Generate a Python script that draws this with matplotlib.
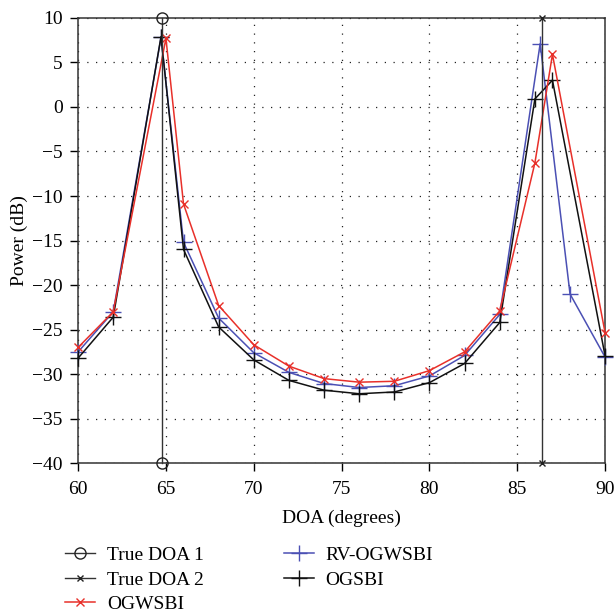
import matplotlib
matplotlib.use("Agg")
import matplotlib.pyplot as plt

plt.rcParams['font.family'] = ['Liberation Serif', 'DejaVu Serif']

true_doa1 = 64.78
true_doa2 = 86.43

ogwsbi_x = [60, 62, 65, 66, 68, 70, 72, 74, 76, 78, 80, 82, 84, 86, 87, 90]
ogwsbi_y = [-27.0, -23.0, 7.7, -10.9, -22.3, -26.7, -29.1, -30.5, -30.9, -30.8, -29.6, -27.5, -22.9, -6.3, 5.9, -25.4]

rv_x = [60, 62, 64.72, 66, 68, 70, 72, 74, 76, 78, 80, 82, 84, 86.3, 88, 90]
rv_y = [-27.5, -23.0, 7.8, -15.2, -23.7, -27.6, -29.8, -31.05, -31.5, -31.3, -30.2, -27.9, -23.3, 7.1, -21.0, -28.1]

ogsbi_x = [60, 62, 64.72, 66, 68, 70, 72, 74, 76, 78, 80, 82, 84, 86, 87, 90]
ogsbi_y = [-28.2, -23.6, 7.9, -16.0, -24.7, -28.4, -30.7, -31.8, -32.2, -32.0, -30.95, -28.8, -24.2, 0.9, 3.0, -28.0]

fig = plt.figure(figsize=(6.15, 6.16), dpi=100)
ax = fig.add_axes([0.127, 0.248, 0.857, 0.723])

ax.plot([true_doa1, true_doa1], [-40, 10], color='#333333', lw=1.0, marker='o',
        markersize=8, markerfacecolor='none', markeredgecolor='#222222', label='True DOA 1', clip_on=False, zorder=5)
ax.plot([true_doa2, true_doa2], [-40, 10], color='#333333', lw=1.0, marker='x',
        markersize=5, markeredgecolor='#222222', label='True DOA 2', clip_on=False, zorder=5)
ax.plot(ogwsbi_x, ogwsbi_y, color='#e8302a', lw=1.1, marker='x', markersize=6, label='OGWSBI', clip_on=False, zorder=4)
ax.plot(rv_x, rv_y, color='#4b50b4', lw=1.1, marker='+', markersize=12, markeredgewidth=1.0, label='RV-OGWSBI', clip_on=False, zorder=3)
ax.plot(ogsbi_x, ogsbi_y, color='#111111', lw=1.1, marker='+', markersize=12, markeredgewidth=1.0, label='OGSBI', clip_on=False, zorder=3)

ax.set_xlim(60, 90)
ax.set_ylim(-40, 10)
ax.set_xticks(range(60, 91, 5))
ax.set_yticks(range(-40, 11, 5))
ax.set_yticklabels([str(v).replace('-', '\u2212') for v in range(-40, 11, 5)])
ax.grid(True, linestyle=(0, (1, 6)), color='#222222', lw=0.9)
ax.tick_params(direction='out', labelsize=14, length=6, width=1.0, pad=5, top=False, right=False)
ax.tick_params(axis='x', pad=7)
for s in ax.spines.values():
    s.set_color('#333333')
    s.set_linewidth(1.1)
ax.set_xlabel('DOA (degrees)', fontsize=14, labelpad=8)
ax.set_ylabel('Power (dB)', fontsize=14, labelpad=3)

fig.legend(loc='upper left', bbox_to_anchor=(0.106, 0.113), ncol=2, frameon=False,
           fontsize=14, handlelength=1.55, labelspacing=0.36, columnspacing=4.1,
           handletextpad=0.6, borderpad=0, borderaxespad=0)

fig.savefig('out.png', dpi=100)
